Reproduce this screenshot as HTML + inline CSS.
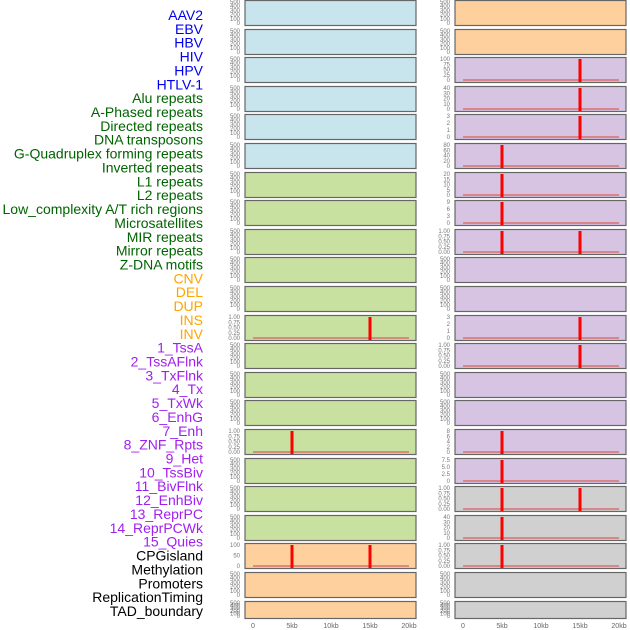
<!DOCTYPE html>
<html><head><meta charset="utf-8"><style>
body{margin:0;background:#fff;}
svg{display:block;font-family:"Liberation Sans",sans-serif;}
</style></head><body>
<svg id="c" width="630" height="630"></svg>
<script>
const labels=["AAV2","EBV","HBV","HIV","HPV","HTLV-1","Alu repeats","A-Phased repeats","Directed repeats","DNA transposons","G-Quadruplex forming repeats","Inverted repeats","L1 repeats","L2 repeats","Low_complexity A/T rich regions","Microsatellites","MIR repeats","Mirror repeats","Z-DNA motifs","CNV","DEL","DUP","INS","INV","1_TssA","2_TssAFlnk","3_TxFlnk","4_Tx","5_TxWk","6_EnhG","7_Enh","8_ZNF_Rpts","9_Het","10_TssBiv","11_BivFlnk","12_EnhBiv","13_ReprPC","14_ReprPCWk","15_Quies","CPGisland","Methylation","Promoters","ReplicationTiming","TAD_boundary"];
const labelColors=["#0000ee","#006400","#ffa500","#a020f0","#000"];
const groupSizes=[6,13,5,15,5];
const T500=["500","400","300","200","100","0"], T1=["1.00","0.75","0.50","0.25","0.00"];
const leftTicks=[T500,T500,T500,T500,T500,T500,T500,T500,T500,T500,T500,T1,T500,T500,T500,T1,T500,T500,T500,["100","50","0"],T500,T500];
const rightTicks=[T500,T500,["100","75","50","25","0"],["40","30","20","10","0"],["3","2","1","0"],["80","60","40","20","0"],["20","15","10","5","0"],["9","6","3","0"],T1,T500,T500,["3","2","1","0"],T1,T500,T500,["8","6","4","2","0"],["7.5","5.0","2.5","0"],T1,["40","30","20","10","0"],T1,T500,T500];
const leftColors=["#c8e4ec","#c8e4ec","#c8e4ec","#c8e4ec","#c8e4ec","#c8e4ec","#c8e0a0","#c8e0a0","#c8e0a0","#c8e0a0","#c8e0a0","#c8e0a0","#c8e0a0","#c8e0a0","#c8e0a0","#c8e0a0","#c8e0a0","#c8e0a0","#c8e0a0","#fdd09e","#fdd09e","#fdd09e"];
const rightColors=["#fdd09e","#fdd09e","#d6c4e2","#d6c4e2","#d6c4e2","#d6c4e2","#d6c4e2","#d6c4e2","#d6c4e2","#d6c4e2","#d6c4e2","#d6c4e2","#d6c4e2","#d6c4e2","#d6c4e2","#d6c4e2","#d6c4e2","#d0d0d0","#d0d0d0","#d0d0d0","#d0d0d0","#d0d0d0"];
// bars: [row, position kb, value]
const leftBars=[[11,15,1],[15,5,1],[19,5,140],[19,15,140]];
const rightBars=[[2,15,100],[3,15,45],[4,15,3],[5,5,80],[6,5,22],[7,5,10],[8,5,1],[8,15,1],[11,15,3],[12,15,1],[15,5,8],[16,5,9],[17,5,1],[17,15,1],[18,5,45],[19,5,1]];
const xTicks=[0,5,10,15,20];
const xTickLabels=["0","5kb","10kb","15kb","20kb"];

const NS="http://www.w3.org/2000/svg",svg=document.getElementById("c");
function mk(t,a,p){const e=document.createElementNS(NS,t);for(const k in a)e.setAttribute(k,a[k]);(p||svg).appendChild(e);return e;}
const rowTop=i=>Math.round(i*28.6), rowH=i=>i==21?17:25;
let li=0;
groupSizes.forEach((n,g)=>{for(let j=0;j<n;j++){const t=mk("text",{x:203,y:20+li*13.86,"text-anchor":"end","font-size":"14",fill:labelColors[g]});t.textContent=labels[li];

li++;}});
function maxOf(ticks){return parseFloat(ticks[0]);}
function panel(col,i){
 const px=col?455:245,w=171,top=rowTop(i),h=rowH(i);
 const ticks=col?rightTicks[i]:leftTicks[i];
 const x0=px+8, xs=kb=>x0+kb*7.8;
 const yb=top+h-2, yt=top+2, mx=maxOf(ticks);
 const ys=v=>yb-(v/mx)*(yb-yt);
 const r=mk("rect",{x:px,y:top+0.5,width:w,height:h,fill:(col?rightColors:leftColors)[i],stroke:"#666","stroke-width":1.2});
 
 
 ticks.forEach((tl,k)=>{const v=parseFloat(tl);const t=mk("text",{x:px-5,y:ys(v)+2,"text-anchor":"end","font-size":"6",fill:"#777"});t.textContent=tl;
 
 });
 const bars=(col?rightBars:leftBars).filter(b=>b[0]==i);
 if(bars.length){const l=mk("line",{x1:xs(0),x2:xs(20),y1:yb,y2:yb,stroke:"#d87070","stroke-width":1.5});
  
  }
 bars.forEach(b=>{const v=Math.min(b[2],mx);const y=ys(v);const yy=Math.max(y,top+1);const e=mk("rect",{x:xs(b[1])-1.5,y:yy,width:3,height:top+h-yy,fill:"#ff0000"});
  
  });
}
for(let i=0;i<22;i++){panel(0,i);panel(1,i);}
[0,1].forEach(col=>{const x0=(col?455:245)+8;xTicks.forEach((kb,k)=>{const t=mk("text",{x:x0+kb*7.8,y:628,"text-anchor":"middle","font-size":"7",fill:"#666"});t.textContent=xTickLabels[k];
 
 });});
</script>
</body></html>
